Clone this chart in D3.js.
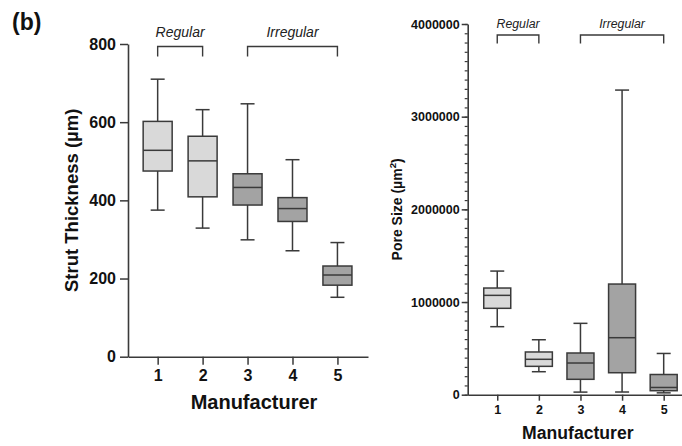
<!DOCTYPE html>
<html>
<head>
<meta charset="utf-8">
<script src="https://cdn.jsdelivr.net/npm/d3@7"></script>
<style>
  html, body { margin: 0; padding: 0; background: #fff; }
  svg { display: block; font-family: "Liberation Sans", Arial, sans-serif; }
</style>
</head>
<body>
<svg id="chart" width="682" height="446"></svg>
<script>
// Manufacturers on the x axis
const manufacturers = [1, 2, 3, 4, 5];
// Pore structure of each manufacturer's product
const structure = ["Regular", "Regular", "Irregular", "Irregular", "Irregular"];

// Strut thickness (µm): whisker low, Q1, median, Q3, whisker high
const strutMin    = [375, 329, 299, 271, 152];
const strutQ1     = [475, 409, 388, 346, 183];
const strutMedian = [528, 501, 433, 379, 209];
const strutQ3     = [602, 564, 468, 407, 232];
const strutMax    = [710, 632, 647, 504, 292];

// Pore size (µm²): whisker low, Q1, median, Q3, whisker high
const poreMin    = [734000, 248000, 28000, 29000, 20000];
const poreQ1     = [932000, 306000, 166000, 237000, 43000];
const poreMedian = [1072000, 382000, 342000, 615000, 78000];
const poreQ3     = [1151000, 461000, 450000, 1194000, 218000];
const poreMax    = [1334000, 593000, 770000, 3287000, 445000];

// Axis ticks
const strutTicks = [0, 200, 400, 600, 800];
const poreTicks = [0, 1000000, 2000000, 3000000, 4000000];
const poreMinorTicks = d3.range(0, 4000001, 100000);

// Bracketed groups above the boxes
const groups = [
  { label: "Regular", from: 1, to: 2 },
  { label: "Irregular", from: 3, to: 5 }
];

const fillFor = { Regular: "#d9d9d9", Irregular: "#a3a3a3" };
const ink = "#3a3a3a";

const svg = d3.select("#chart");

svg.append("text")
  .attr("x", 12).attr("y", 30)
  .attr("font-size", 23).attr("font-weight", "bold").attr("fill", "#111")
  .text("(b)");

function boxPanel(cfg) {
  const g = svg.append("g");
  const x = d3.scaleLinear().domain(cfg.xDomain).range([cfg.left, cfg.right]);
  const y = d3.scaleLinear().domain(cfg.yDomain).range([cfg.bottom, cfg.top]);

  const rows = manufacturers.map((m, i) => ({
    m, type: structure[i],
    lo: cfg.min[i], q1: cfg.q1[i], med: cfg.median[i], q3: cfg.q3[i], hi: cfg.max[i]
  }));

  // minor ticks (drawn first so major ticks sit on top)
  if (cfg.minorTicks) {
    g.append("g")
      .attr("transform", `translate(${cfg.left},0)`)
      .call(d3.axisLeft(y).tickValues(cfg.minorTicks).tickSize(cfg.minorSize).tickFormat(""))
      .call(a => a.select(".domain").remove())
      .call(a => a.selectAll("line").attr("stroke", ink).attr("stroke-width", 1.2));
  }

  // y axis
  g.append("g")
    .attr("transform", `translate(${cfg.left},0)`)
    .call(d3.axisLeft(y).tickValues(cfg.yTicks).tickSize(cfg.tickSize).tickPadding(cfg.tickPad)
      .tickFormat(d3.format("d")).tickSizeOuter(0))
    .call(a => a.select(".domain").attr("stroke", ink).attr("stroke-width", 1.6))
    .call(a => a.selectAll(".tick line").attr("stroke", ink).attr("stroke-width", 1.5))
    .call(a => a.selectAll("text").attr("font-size", cfg.tickFont).attr("font-weight", "bold")
      .attr("fill", "#111").attr("font-family", "Liberation Sans, Arial, sans-serif"));

  // x axis
  g.append("g")
    .attr("transform", `translate(0,${cfg.bottom})`)
    .call(d3.axisBottom(x).tickValues(manufacturers).tickSize(cfg.tickSize).tickPadding(cfg.xTickPad)
      .tickFormat(d3.format("d")).tickSizeOuter(0))
    .call(a => a.select(".domain").attr("stroke", ink).attr("stroke-width", 1.6))
    .call(a => a.selectAll(".tick line").attr("stroke", ink).attr("stroke-width", 1.5))
    .call(a => a.selectAll("text").attr("font-size", cfg.tickFont).attr("font-weight", "bold")
      .attr("fill", "#111").attr("font-family", "Liberation Sans, Arial, sans-serif"));

  // boxes
  const bw = cfg.boxWidth, cw = cfg.capWidth;
  const b = g.append("g").selectAll("g").data(rows).join("g");
  b.append("line")
    .attr("x1", d => x(d.m)).attr("x2", d => x(d.m))
    .attr("y1", d => y(d.hi)).attr("y2", d => y(d.lo))
    .attr("stroke", ink).attr("stroke-width", 1.5);
  b.append("line").attr("x1", d => x(d.m) - cw / 2).attr("x2", d => x(d.m) + cw / 2)
    .attr("y1", d => y(d.hi)).attr("y2", d => y(d.hi))
    .attr("stroke", ink).attr("stroke-width", 1.5);
  b.append("line").attr("x1", d => x(d.m) - cw / 2).attr("x2", d => x(d.m) + cw / 2)
    .attr("y1", d => y(d.lo)).attr("y2", d => y(d.lo))
    .attr("stroke", ink).attr("stroke-width", 1.5);
  b.append("rect")
    .attr("x", d => x(d.m) - bw / 2).attr("width", bw)
    .attr("y", d => y(d.q3)).attr("height", d => y(d.q1) - y(d.q3))
    .attr("fill", d => fillFor[d.type]).attr("stroke", ink).attr("stroke-width", 1.5);
  b.append("line")
    .attr("x1", d => x(d.m) - bw / 2).attr("x2", d => x(d.m) + bw / 2)
    .attr("y1", d => y(d.med)).attr("y2", d => y(d.med))
    .attr("stroke", ink).attr("stroke-width", 1.5);

  // group brackets
  const br = g.append("g").selectAll("g").data(groups).join("g");
  br.append("path")
    .attr("d", d => `M${x(d.from)},${cfg.bracketY + cfg.bracketLeg}V${cfg.bracketY}H${x(d.to)}V${cfg.bracketY + cfg.bracketLeg}`)
    .attr("fill", "none").attr("stroke", ink).attr("stroke-width", 1.4);
  br.append("text")
    .attr("x", d => (x(d.from) + x(d.to)) / 2)
    .attr("y", cfg.bracketLabelY)
    .attr("text-anchor", "middle")
    .attr("font-size", cfg.bracketFont).attr("font-style", "italic").attr("fill", "#222")
    .text(d => d.label);

  // axis titles
  g.append("text")
    .attr("x", (cfg.left + cfg.right) / 2 + cfg.xTitleShift).attr("y", cfg.xTitleY)
    .attr("text-anchor", "middle").attr("font-size", cfg.xTitleFont).attr("font-weight", "bold")
    .attr("fill", "#111").text("Manufacturer");

  const yt = g.append("text")
    .attr("transform", `translate(${cfg.yTitleX},${(cfg.top + cfg.bottom) / 2}) rotate(-90)`)
    .attr("text-anchor", "middle").attr("font-size", cfg.yTitleFont).attr("font-weight", "bold")
    .attr("fill", "#111");
  yt.append("tspan").text(cfg.yTitle);
  if (cfg.yTitleSup) {
    yt.append("tspan").attr("dy", -cfg.yTitleFont * 0.4).attr("font-size", cfg.yTitleFont * 0.7).text(cfg.yTitleSup);
    yt.append("tspan").attr("dy", cfg.yTitleFont * 0.4).text(")");
  }
}

boxPanel({
  left: 128, right: 368, top: 44, bottom: 356.7,
  xDomain: [0.34, 5.68], yDomain: [0, 800], yTicks: strutTicks,
  min: strutMin, q1: strutQ1, median: strutMedian, q3: strutQ3, max: strutMax,
  tickSize: 8, tickPad: 4, xTickPad: 5, tickFont: 16,
  boxWidth: 29, capWidth: 14,
  bracketY: 46.5, bracketLeg: 10, bracketLabelY: 37, bracketFont: 14,
  xTitleY: 409, xTitleFont: 20, xTitleShift: 6,
  yTitle: "Strut Thickness (µm)", yTitleX: 78, yTitleFont: 18.5
});

boxPanel({
  left: 467.7, right: 682, top: 24, bottom: 394.7,
  xDomain: [0.29, 5.44], yDomain: [0, 4000000], yTicks: poreTicks,
  minorTicks: poreMinorTicks, minorSize: 3,
  min: poreMin, q1: poreQ1, median: poreMedian, q3: poreQ3, max: poreMax,
  tickSize: 6, tickPad: 2, xTickPad: 4, tickFont: 12.5,
  boxWidth: 27, capWidth: 14,
  bracketY: 35, bracketLeg: 8.5, bracketLabelY: 27.5, bracketFont: 12.3,
  xTitleY: 439, xTitleFont: 17.6, xTitleShift: 3,
  yTitle: "Pore Size (µm", yTitleSup: "2", yTitleX: 401.5, yTitleFont: 14
});
</script>
</body>
</html>
